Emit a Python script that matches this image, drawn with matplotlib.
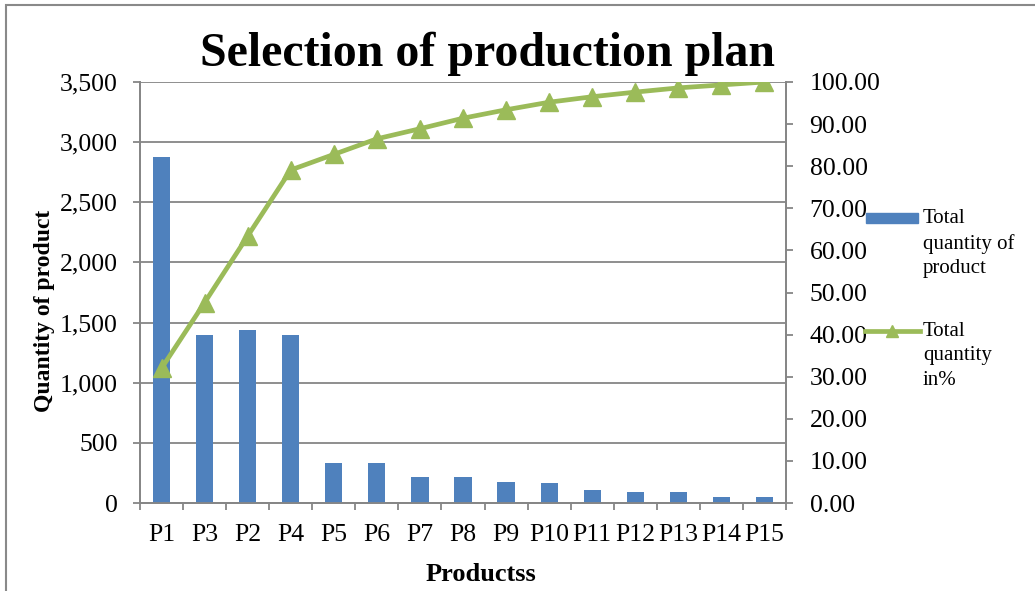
import numpy as np
import matplotlib.pyplot as plt
from matplotlib.patches import Rectangle
from matplotlib.lines import Line2D
from matplotlib.ticker import FuncFormatter, MultipleLocator

plt.rcParams['font.family'] = ['Liberation Serif', 'DejaVu Serif']

# values
products = ['P1', 'P3', 'P2', 'P4', 'P5', 'P6', 'P7', 'P8',
            'P9', 'P10', 'P11', 'P12', 'P13', 'P14', 'P15']
quantity = [2880, 1400, 1440, 1400, 330, 330, 216, 216,
            175, 163, 105, 91, 91, 53, 53]
cum_pct = [32.0, 47.6, 63.4, 79.1, 82.8, 86.5, 88.9, 91.4,
           93.4, 95.2, 96.5, 97.6, 98.6, 99.3, 100.0]

W, H = 1035, 591
blue = '#4F81BD'
green = '#9BBB59'
grey = '#868686'

fig = plt.figure(figsize=(W / 100, H / 100), dpi=100)
fig.patch.set_facecolor('white')

def fx(x):
    return x / W

def fy(y):
    return 1 - y / H

# plot area: x 140..786, y 82..503 (pixels)
ax = fig.add_axes([fx(140), fy(503), fx(786) - fx(140), fy(82) - fy(503)])
ax2 = ax.twinx()

x = np.arange(len(products))
ax.bar(x, quantity, width=0.4, color=blue, zorder=3)
ax2.plot(x, cum_pct, color=green, lw=3.4, marker='^', ms=13,
         markeredgecolor=green, markerfacecolor=green, zorder=4)

ax.set_xlim(-0.5, len(products) - 0.5)
ax.set_ylim(0, 3500)
ax2.set_ylim(0, 100)

ax.yaxis.set_major_locator(MultipleLocator(500))
ax.yaxis.set_major_formatter(FuncFormatter(lambda v, p: f'{int(v):,}'))
ax2.yaxis.set_major_locator(MultipleLocator(10))
ax2.yaxis.set_major_formatter(FuncFormatter(lambda v, p: f'{v:.2f}'))

ax.set_xticks(x)
ax.set_xticklabels(products)
ax.set_xticks(np.arange(len(products) + 1) - 0.5, minor=True)
ax.tick_params(axis='x', which='major', length=0, pad=15, labelsize=18.5)
ax.tick_params(axis='x', which='minor', length=5, width=1.3, color=grey, direction='out')
ax.tick_params(axis='y', length=5, width=1.3, color=grey, pad=11, labelsize=18.5)
ax2.tick_params(axis='y', length=5, width=1.3, color=grey, pad=12, labelsize=18.5)

ax.grid(axis='y', color=grey, lw=1.3, zorder=0)
for a in (ax, ax2):
    a.spines['top'].set_visible(False)
    for s in ('left', 'right', 'bottom'):
        a.spines[s].set_color(grey)
        a.spines[s].set_linewidth(1.3)

ax.set_ylabel('Quantity of product', fontsize=17, fontweight='bold')
ax.yaxis.set_label_coords(-0.132, 0.456)
ax.set_xlabel('Productss', fontsize=19, fontweight='bold')
ax.xaxis.set_label_coords(0.528, -0.143)

fig.text(fx(487), fy(54), 'Selection of production plan', fontsize=34.5,
         fontweight='bold', ha='center', va='center')

# legend drawn to the right, handle next to the first line of each label
fig.add_artist(Rectangle((fx(866), fy(223)), fx(918) - fx(866), fy(213) - fy(223),
                         transform=fig.transFigure, color=blue))
fig.add_artist(Line2D([fx(865), fx(920)], [fy(331), fy(331)], transform=fig.transFigure,
                      color=green, lw=3.4))
fig.add_artist(Line2D([fx(892)], [fy(331)], transform=fig.transFigure, color=green,
                      marker='^', ms=9, ls='none'))
fig.text(fx(923), fy(209), 'Total\nquantity of\nproduct', fontsize=15,
         va='top', ha='left', linespacing=1.38)
fig.text(fx(923), fy(322), 'Total\nquantity\nin%', fontsize=15,
         va='top', ha='left', linespacing=1.38)

# outer chart border (cropped on the right and bottom)
fig.add_artist(Rectangle((fx(6), fy(H + 10)), 1.1, fy(5) - fy(H + 10),
                         transform=fig.transFigure, fill=False, ec='#898989', lw=1.5))

plt.savefig('out.png', dpi=100)
